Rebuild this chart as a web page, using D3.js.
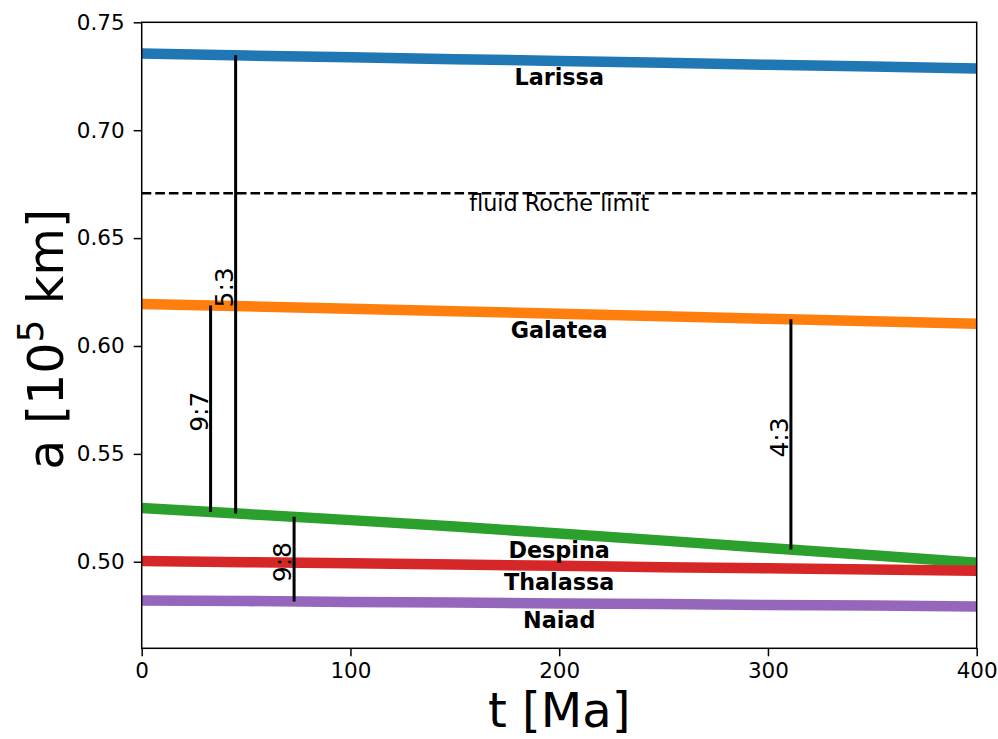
<!DOCTYPE html>
<html>
<head>
<meta charset="utf-8">
<script src="https://cdn.jsdelivr.net/npm/d3@7"></script>
<style>
  html, body { margin: 0; padding: 0; background: #fff; }
  svg { display: block; font-family: "DejaVu Sans", sans-serif; }
</style>
</head>
<body>
<svg id="chart" width="998" height="739"></svg>
<script>
// Orbital evolution of Neptune's inner moons (semi-major axis vs time)
const times = [0, 50, 100, 150, 200, 250, 300, 350, 400];
const larissa  = [0.7355, 0.7346, 0.7338, 0.7329, 0.7321, 0.7312, 0.7303, 0.7295, 0.7286];
const galatea  = [0.6195, 0.6184, 0.6172, 0.6161, 0.6149, 0.6138, 0.6126, 0.6115, 0.6103];
const despina  = [0.5249, 0.5221, 0.5193, 0.5163, 0.5131, 0.5098, 0.5064, 0.5030, 0.4995];
const thalassa = [0.5004, 0.4998, 0.4993, 0.4987, 0.4981, 0.4975, 0.4970, 0.4964, 0.4958];
const naiad    = [0.4821, 0.4818, 0.4814, 0.4811, 0.4807, 0.4804, 0.4800, 0.4797, 0.4793];

const moonNames  = ["Larissa", "Galatea", "Despina", "Thalassa", "Naiad"];
const moonSeries = [larissa, galatea, despina, thalassa, naiad];
const moonColors = ["#1f77b4", "#ff7f0e", "#2ca02c", "#d62728", "#9467bd"];
const labelTime = 200;

const rocheLimit = 0.6708;
const rocheLabel = "fluid Roche limit";

// mean-motion resonances: ratio, time, inner and outer moon
const resLabels = ["5:3", "9:7", "9:8", "4:3"];
const resTimes  = [45, 33, 73, 311];
const resInner  = ["Despina", "Despina", "Naiad", "Despina"];
const resOuter  = ["Larissa", "Galatea", "Despina", "Galatea"];

const xTicks = [0, 100, 200, 300, 400];
const yTicks = [0.50, 0.55, 0.60, 0.65, 0.70, 0.75];

const svg = d3.select("#chart");
const plotLeft = 141.7, plotRight = 976.7, plotTop = 22.3, plotBottom = 648.3;

const x = d3.scaleLinear().domain([0, 400]).range([plotLeft, plotRight]);
const y = d3.scaleLinear().domain([0.4599, 0.75]).range([plotBottom, plotTop]);

// value of a moon's orbit at any time, by linear interpolation
function aAt(name, t) {
  const s = moonSeries[moonNames.indexOf(name)];
  return d3.scaleLinear().domain(times).range(s)(t);
}

svg.append("defs").append("clipPath").attr("id", "plotclip")
  .append("rect").attr("x", plotLeft).attr("y", plotTop)
  .attr("width", plotRight - plotLeft).attr("height", plotBottom - plotTop);

const plot = svg.append("g").attr("clip-path", "url(#plotclip)");

// moon tracks
const line = d3.line().x((d, i) => x(times[i])).y(d => y(d));
moonSeries.forEach((s, k) => {
  plot.append("path").datum(s)
    .attr("d", line)
    .attr("fill", "none")
    .attr("stroke", moonColors[k])
    .attr("stroke-width", 10.5);
});

// fluid Roche limit
plot.append("line")
  .attr("x1", x(0)).attr("x2", x(400))
  .attr("y1", y(rocheLimit)).attr("y2", y(rocheLimit))
  .attr("stroke", "#000").attr("stroke-width", 2.6)
  .attr("stroke-dasharray", "9.6,4");
svg.append("text")
  .attr("x", x(200)).attr("y", y(rocheLimit) + 17.5)
  .attr("text-anchor", "middle")
  .attr("font-size", 22.3)
  .text(rocheLabel);

// resonance markers
resLabels.forEach((lab, i) => {
  const t = resTimes[i];
  const a0 = aAt(resInner[i], t), a1 = aAt(resOuter[i], t);
  const xx = x(t);
  plot.append("line")
    .attr("x1", xx).attr("x2", xx)
    .attr("y1", y(a0)).attr("y2", y(a1))
    .attr("stroke", "#000").attr("stroke-width", 3);
  const mid = (y(a0) + y(a1)) / 2 + 3;
  svg.append("text")
    .attr("transform", `translate(${xx - 3},${mid}) rotate(-90)`)
    .attr("text-anchor", "middle")
    .attr("font-size", 25)
    .text(lab);
});

// moon names
moonNames.forEach((name, k) => {
  svg.append("text")
    .attr("x", x(labelTime))
    .attr("y", y(aAt(name, labelTime)) + 24.5)
    .attr("text-anchor", "middle")
    .attr("font-size", 22.3)
    .attr("font-weight", "bold")
    .text(name);
});

// axes
const xAxis = d3.axisBottom(x).tickValues(xTicks).tickFormat(d3.format("d"))
  .tickSizeInner(8).tickSizeOuter(0).tickPadding(6);
const yAxis = d3.axisLeft(y).tickValues(yTicks).tickFormat(d3.format(".2f"))
  .tickSizeInner(8).tickSizeOuter(0).tickPadding(9);

const gx = svg.append("g").attr("transform", `translate(0,${plotBottom})`).call(xAxis);
const gy = svg.append("g").attr("transform", `translate(${plotLeft},0)`).call(yAxis);
[gx, gy].forEach(g => {
  g.select(".domain").remove();
  g.selectAll(".tick line").attr("stroke", "#000").attr("stroke-width", 1.5);
  g.selectAll(".tick text").attr("font-size", 21.5).attr("fill", "#000")
    .attr("font-family", "DejaVu Sans, sans-serif");
});

// frame
svg.append("rect")
  .attr("x", plotLeft).attr("y", plotTop)
  .attr("width", plotRight - plotLeft).attr("height", plotBottom - plotTop)
  .attr("fill", "none").attr("stroke", "#000").attr("stroke-width", 1.5);

// axis titles
svg.append("text")
  .attr("x", (plotLeft + plotRight) / 2).attr("y", 727)
  .attr("text-anchor", "middle")
  .attr("font-size", 48)
  .text("t [Ma]");

const yl = svg.append("text")
  .attr("transform", `translate(63,${(plotTop + plotBottom) / 2 + 4}) rotate(-90)`)
  .attr("text-anchor", "middle")
  .attr("font-size", 49);
yl.append("tspan").text("a [10");
yl.append("tspan").attr("font-size", 36).attr("dy", -20).text("5");
yl.append("tspan").attr("dy", 20).text(" km]");
</script>
</body>
</html>
